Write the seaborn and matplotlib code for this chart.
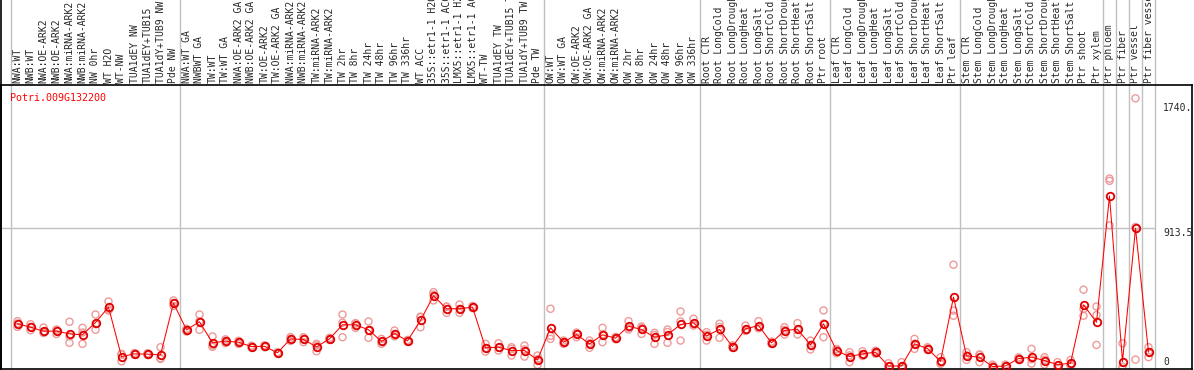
# -*- coding: utf-8 -*-
"""
Expression profile of Potri.009G132200 across poplar samples
"""

import numpy as np
import pandas as pd
import matplotlib
matplotlib.use("Agg")
import matplotlib.pyplot as plt
import seaborn as sns

# Sample names, grouped the way the chart splits them
nw_samples = ["NWA:WT", "NWB:WT", "NWA:OE-ARK2", "NWB:OE-ARK2", "NWA:miRNA-ARK2",
              "NWB:miRNA-ARK2", "NW 0hr", "WT H2O", "WT-NW", "TUA1dEY NW",
              "TUA1dEY+TUB15", "TUA1dY+TUB9 NW", "Pde NW"]
tw_samples = ["NWA:WT GA", "NWBWT GA", "TW:WT", "TW:WT GA", "NWA:OE-ARK2 GA",
              "NWB:OE-ARK2 GA", "TW:OE-ARK2", "TW:OE-ARK2 GA", "NWA:miRNA-ARK2 GA",
              "NWB:miRNA-ARK2 GA", "TW:miRNA-ARK2", "TW:miRNA-ARK2", "TW 2hr", "TW 8hr",
              "TW 24hr", "TW 48hr", "TW 96hr", "TW 336hr", "WT ACC", "35S::etr1-1 H2O",
              "35S::etr1-1 ACC", "LMX5::etr1-1 H2O", "LMX5::etr1-1 ACC", "WT-TW",
              "TUA1dEY TW", "TUA1dEY+TUB15 TW", "TUA1dY+TUB9 TW", "Pde TW"]
ow_samples = ["OW:WT", "OW:WT GA", "OW:OE-ARK2", "OW:OE-ARK2 GA", "OW:miRNA-ARK2",
              "OW:miRNA-ARK2", "OW 2hr", "OW 8hr", "OW 24hr", "OW 48hr", "OW 96hr",
              "OW 336hr"]
stress = ["CTR", "LongCold", "LongDrought", "LongHeat", "LongSalt", "ShortCold",
          "ShortDrought", "ShortHeat", "ShortSalt"]
root_samples = ["Root " + s for s in stress] + ["Ptr root"]
leaf_samples = ["Leaf " + s for s in stress] + ["Ptr leaf"]
stem_samples = ["Stem " + s for s in stress] + ["Ptr shoot", "Ptr xylem"]
wood_samples = ["Ptr phloem", "Ptr fiber", "Ptr vessel", "Ptr fiber vessel"]

groups = [nw_samples, tw_samples, ow_samples, root_samples, leaf_samples,
          stem_samples] + [[s] for s in wood_samples]
samples = [s for g in groups for s in g]

# Mean expression per sample
means = [283, 260, 234, 234, 216, 210, 291, 393, 66, 84, 82, 77, 419,
         243, 296, 157, 168, 161, 132, 134, 91, 183, 179, 130, 183, 276, 276, 243,
         166, 218, 170, 305, 468, 382, 382, 393, 124, 128, 106, 106, 44,
         256, 161, 212, 150, 210, 188, 267, 245, 194, 210, 278, 289,
         203, 245, 132, 249, 271, 157, 238, 247, 143, 283,
         106, 66, 84, 95, 4, 4, 150, 119, 35, 459,
         71, 62, 0, 4, 53, 62, 40, 13, 22, 408, 293,
         1127, 33, 913.5, 95]

# Individual replicates per sample
replicates = [
    [300, 262, 285], [280, 240, 262], [258, 222, 230], [245, 215, 240],
    [296, 157, 200], [256, 150, 225], [344, 243, 280], [430, 380, 370],
    [84, 35, 80], [90, 78, 84], [88, 76, 82], [128, 51, 55], [437, 400, 420],
    [250, 232, 245], [344, 243, 300], [199, 130, 140], [180, 155, 170],
    [170, 150, 163], [138, 126, 132], [140, 128, 134], [95, 87, 91],
    [195, 170, 183], [194, 161, 182], [150, 101, 139], [190, 176, 183],
    [344, 194, 290], [287, 256, 285], [298, 190, 240], [183, 150, 165],
    [238, 200, 216], [176, 164, 170], [326, 260, 330], [492, 437, 475],
    [397, 355, 394], [410, 355, 381], [400, 386, 393], [150, 99, 123],
    [154, 106, 124], [128, 73, 117], [139, 66, 113], [73, 11, 48],
    [382, 183, 203], [172, 150, 161], [194, 225, 217], [172, 124, 154],
    [256, 161, 213], [195, 181, 188], [300, 245, 256], [265, 216, 254],
    [223, 150, 209], [245, 157, 228], [364, 172, 298], [316, 280, 271],
    [227, 172, 210], [283, 190, 262], [140, 124, 132], [271, 235, 241],
    [300, 260, 253], [165, 150, 157], [260, 212, 242], [287, 212, 242],
    [172, 113, 144], [371, 194, 284], [88, 116, 114], [95, 29, 74],
    [101, 70, 81], [105, 85, 95], [22, 0, 0], [29, 0, 0], [183, 117, 150],
    [128, 110, 119], [62, 25, 18], [673, 336, 370], [95, 44, 74],
    [77, 29, 80], [13, 0, 0], [13, 0, 0], [60, 46, 53], [117, 20, 49],
    [62, 13, 45], [29, 5, 5], [44, 15, 7], [508, 336, 380], [397, 340, 143],
    [1242, 1227, 933], [154, 0, -15], [1772, 46, 922], [128, 62, 95],
]

gene_name = "Potri.009G132200"
y_ticks = [0, 913.5, 1740]
y_tick_text = ["0", "913.5", "1740.9"]

# Long form tables for seaborn
mean_df = pd.DataFrame({"pos": np.arange(len(samples)), "value": means})
rep_df = pd.DataFrame(
    [(i, v) for i, reps in enumerate(replicates) for v in reps],
    columns=["pos", "value"])

sns.set_style("white")
plt.rcParams["font.family"] = ["DejaVu Sans Mono", "DejaVu Sans"]

W, H = 1194, 370
fig = plt.figure(figsize=(W / 100, H / 100), dpi=100)
ax = fig.add_axes([1 / W, 1 / H, 1191 / W, 284 / H])

# x: 13 px per sample, first centred at 17.5 px
x_left = (1 - 17.5) / 13
x_right = (1192 - 17.5) / 13
ax.set_xlim(x_left, x_right)
ax.set_ylim(-16, 1860)

# group separators (run up through the label strip)
bounds = np.cumsum([0] + [len(g) for g in groups]) - 0.5
for b in bounds:
    ax.axvline(b, ymin=0, ymax=1.31, color="#c0c0c0", lw=1, clip_on=False,
               zorder=1)
ax.axvline(x_left, ymin=0, ymax=1.31, color="black", lw=1.2, clip_on=False)
ax.hlines(913.5, x_left, bounds[-1], color="#c0c0c0", lw=1, zorder=1)

sns.scatterplot(data=rep_df, x="pos", y="value", ax=ax, marker="o",
                s=26, facecolor="none", edgecolor="#ee9a9a", linewidth=1.0,
                zorder=2)
sns.lineplot(data=mean_df, x="pos", y="value", ax=ax, color="red", lw=0.75,
             marker="o", ms=5.4, mfc="none", mec="#e00000", mew=1.3,
             zorder=3)

# sample names in the strip above
ax.xaxis.tick_top()
ax.set_xticks(np.arange(len(samples)))
ax.set_xticklabels(samples, rotation=90, fontsize=7)
ax.tick_params(axis="x", length=0, pad=1.5)
ax.set_yticks([])
ax.set_xlabel(None)
ax.set_ylabel(None)

# value labels on the right, inside the frame
for v, t in zip(y_ticks, y_tick_text):
    ax.text((1163 - 17.5) / 13, v, t, fontsize=7, ha="left",
            va="bottom" if v == 0 else "top", clip_on=True)

ax.text(0.0075, 0.953, gene_name, transform=ax.transAxes, color="red",
        fontsize=7.2, ha="left", va="center")

for side in ["left", "right", "top", "bottom"]:
    ax.spines[side].set_visible(True)
    ax.spines[side].set_color("black")
    ax.spines[side].set_linewidth(1.2)

fig.savefig("out.png", dpi=100)
